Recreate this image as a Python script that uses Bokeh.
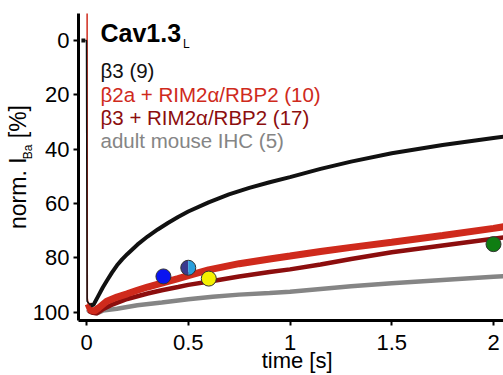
import math
from bokeh.plotting import figure
from bokeh.models import Range1d, FixedTicker, Label, LinearAxis
from bokeh.embed import file_html
from bokeh.resources import INLINE

# ---------------- data ----------------
x_ticks = [0, 0.5, 1, 1.5, 2]
x_tick_labels = ["0", "0.5", "1", "1.5", "2"]
y_ticks = [0, 20, 40, 60, 80, 100]

# beta3 (black)
black_pre_t = [-0.025, -0.006]
black_pre = [0.0, 0.0]
black_on_t = [-0.006, 0.0, 0.003, 0.02]
black_on = [0.0, 0.0, 96.0, 97.5]
black_t = [0.02, 0.035, 0.06, 0.08, 0.1, 0.125, 0.15, 0.175, 0.2, 0.25, 0.3,
           0.35, 0.4, 0.45, 0.5, 0.6, 0.7, 0.8, 0.9, 1.0, 1.15, 1.3, 1.5, 1.75,
           2.0, 2.05]
black = [97.5, 97.3, 93.8, 91.0, 88.5, 85.5, 82.8, 80.6, 78.7, 75.2, 72.2,
         69.6, 67.2, 65.0, 63.0, 59.6, 56.7, 54.3, 52.2, 50.3, 47.3, 44.6, 41.5,
         38.5, 35.9, 35.4]

# beta2a + RIM2alpha/RBP2 (red)
red_on_t = [0.003, 0.004, 0.008]
red_on = [-12.0, 95.0, 97.0]
red_t = [0.008, 0.02, 0.04, 0.06, 0.1, 0.15, 0.2, 0.25, 0.3, 0.37, 0.45, 0.5,
         0.6, 0.75, 0.9, 1.0, 1.15, 1.3, 1.5, 1.75, 2.0, 2.05]
red = [97.0, 99.3, 99.6, 98.5, 96.0, 94.5, 93.3, 92.0, 90.8, 89.4, 87.7, 86.6,
       84.5, 82.2, 80.5, 79.4, 77.7, 76.2, 74.3, 71.8, 69.2, 68.6]

# beta3 + RIM2alpha/RBP2 (dark red)
dred_t = [0.01, 0.03, 0.05, 0.08, 0.12, 0.2, 0.3, 0.37, 0.45, 0.5, 0.62, 0.75,
          0.9, 1.0, 1.15, 1.3, 1.5, 1.75, 2.0, 2.05]
dred = [99.5, 100.3, 100.5, 99.0, 97.5, 95.2, 93.2, 92.0, 90.8, 90.0, 88.6, 86.9,
        85.3, 84.3, 82.5, 80.5, 78.0, 75.5, 73.0, 72.5]

# adult mouse IHC (gray)
gray_t = [0.005, 0.02, 0.05, 0.08, 0.15, 0.25, 0.37, 0.5, 0.62, 0.75, 0.9, 1.0,
          1.15, 1.3, 1.5, 1.75, 2.0, 2.05]
gray = [99.0, 100.0, 100.5, 99.5, 98.8, 97.5, 96.5, 95.3, 94.4, 93.6, 93.0, 92.5,
        91.5, 90.5, 89.4, 88.2, 87.0, 86.8]

# single markers
dot_t = [0.378, 0.601, 2.0]
dot_v = [86.9, 87.7, 75.0]
dot_colors = ["#0a14f0", "#f5f000", "#0f7d12"]
half_t = [0.5]
half_v = [83.7]

legend_texts = ["\u03b23 (9)", "\u03b22a + RIM2\u03b1/RBP2 (10)",
                "\u03b23 + RIM2\u03b1/RBP2 (17)", "adult mouse IHC (5)"]
x_label = "\u00a0\u00a0time [s]"
y_label = "norm. I\u00a0\u00a0 [%]"
y_label_sub = "Ba"
y_label_sub_at = 41

# ---------------- styling ----------------
BLACK = "#111111"
RED = "#cf2a1c"
DRED = "#8c0e0e"
GRAY = "#858585"
FONT = "Liberation Sans"


def dx(px):
    return (px - 86.0) / 203.5


def dy(py):
    return (py - 40.0) / 2.715


p = figure(width=503, height=375, output_backend="svg", toolbar_location=None,
           x_range=Range1d(dx(78), dx(503)), y_range=Range1d(dy(320), dy(13)),
           min_border_left=78, min_border_right=0, min_border_top=13,
           min_border_bottom=55)
p.outline_line_color = None
p.xgrid.visible = False
p.ygrid.visible = False
p.background_fill_color = "white"
p.border_fill_color = "white"

for ax in (p.xaxis[0], p.yaxis[0]):
    ax.axis_line_width = 3
    ax.axis_line_color = "black"
    ax.major_tick_line_width = 2
    ax.major_tick_line_color = "black"
    ax.major_tick_out = 5
    ax.major_tick_in = 0
    ax.minor_tick_line_color = None
    ax.major_label_text_font = FONT
    ax.major_label_text_font_size = "22px"
    ax.major_label_text_color = "black"

p.xaxis[0].ticker = FixedTicker(ticks=x_ticks)
p.xaxis[0].major_label_overrides = {t: l for t, l in zip(x_ticks, x_tick_labels)}
p.xaxis[0].major_label_standoff = 9
p.xaxis[0].axis_label = x_label
p.xaxis[0].axis_label_text_font = FONT
p.xaxis[0].axis_label_text_font_size = "22px"
p.xaxis[0].axis_label_text_font_style = "normal"
p.xaxis[0].axis_label_text_color = "black"
p.xaxis[0].axis_label_standoff = -5

p.yaxis[0].ticker = FixedTicker(ticks=y_ticks)
p.yaxis[0].major_label_standoff = 4

# outer axis carrying the y label and its subscript
lab_axis = LinearAxis(ticker=FixedTicker(ticks=[y_label_sub_at]),
                      major_label_overrides={y_label_sub_at: y_label_sub},
                      axis_line_color=None, major_tick_line_color=None,
                      minor_tick_line_color=None, major_tick_out=0,
                      major_tick_in=0, major_label_text_font=FONT,
                      major_label_text_font_size="12px",
                      major_label_text_color="black",
                      major_label_orientation="vertical",
                      major_label_standoff=-6,
                      axis_label=y_label, axis_label_text_font=FONT,
                      axis_label_text_font_size="23px",
                      axis_label_text_font_style="normal",
                      axis_label_text_color="black",
                      axis_label_standoff=-12)
p.add_layout(lab_axis, "left")

# traces
p.line(gray_t, gray, line_color=GRAY, line_width=4.5)
p.line(dred_t, dred, line_color=DRED, line_width=4.5)
p.line(red_on_t, red_on, line_color=RED, line_width=1.5)
p.line(red_t, red, line_color=RED, line_width=7)
p.line(black_pre_t, black_pre, line_color=BLACK, line_width=4)
p.line(black_on_t, black_on, line_color=BLACK, line_width=1.5)
p.line(black_t, black, line_color=BLACK, line_width=4)

# markers
p.scatter(dot_t, dot_v, size=15, fill_color=dot_colors, line_color="#333333",
          line_width=1)
p.wedge(x=half_t, y=half_v, radius=7.5, radius_units="screen",
        start_angle=math.pi / 2, end_angle=3 * math.pi / 2,
        fill_color="#3a3a8e", line_color=None)
p.wedge(x=half_t, y=half_v, radius=7.5, radius_units="screen",
        start_angle=-math.pi / 2, end_angle=math.pi / 2,
        fill_color="#2a9fdc", line_color=None)
p.scatter(half_t, half_v, size=15, fill_color=None, line_color="#333333",
          line_width=1)

# title with subscript (baselines corrected for the renderer's text offset)
p.add_layout(Label(x=dx(100), y=dy(32), text="Cav1.3", text_font=FONT,
                   text_font_size="25px", text_font_style="bold",
                   text_color="black", text_baseline="alphabetic",
                   text_align="left"))
p.add_layout(Label(x=dx(182.5), y=dy(43.3), text="L", text_font=FONT,
                   text_font_size="12px", text_color="black",
                   text_baseline="alphabetic", text_align="left"))

# legend texts
legend_colors = [BLACK, RED, DRED, GRAY]
legend_baselines = [70, 93.5, 117, 140.3]
for txt, col, bl in zip(legend_texts, legend_colors, legend_baselines):
    p.add_layout(Label(x=dx(100), y=dy(bl), text=txt, text_font=FONT,
                       text_font_size="20.5px", text_color=col,
                       text_baseline="alphabetic", text_align="left"))

open("out.html", "w").write(file_html(p, INLINE))
